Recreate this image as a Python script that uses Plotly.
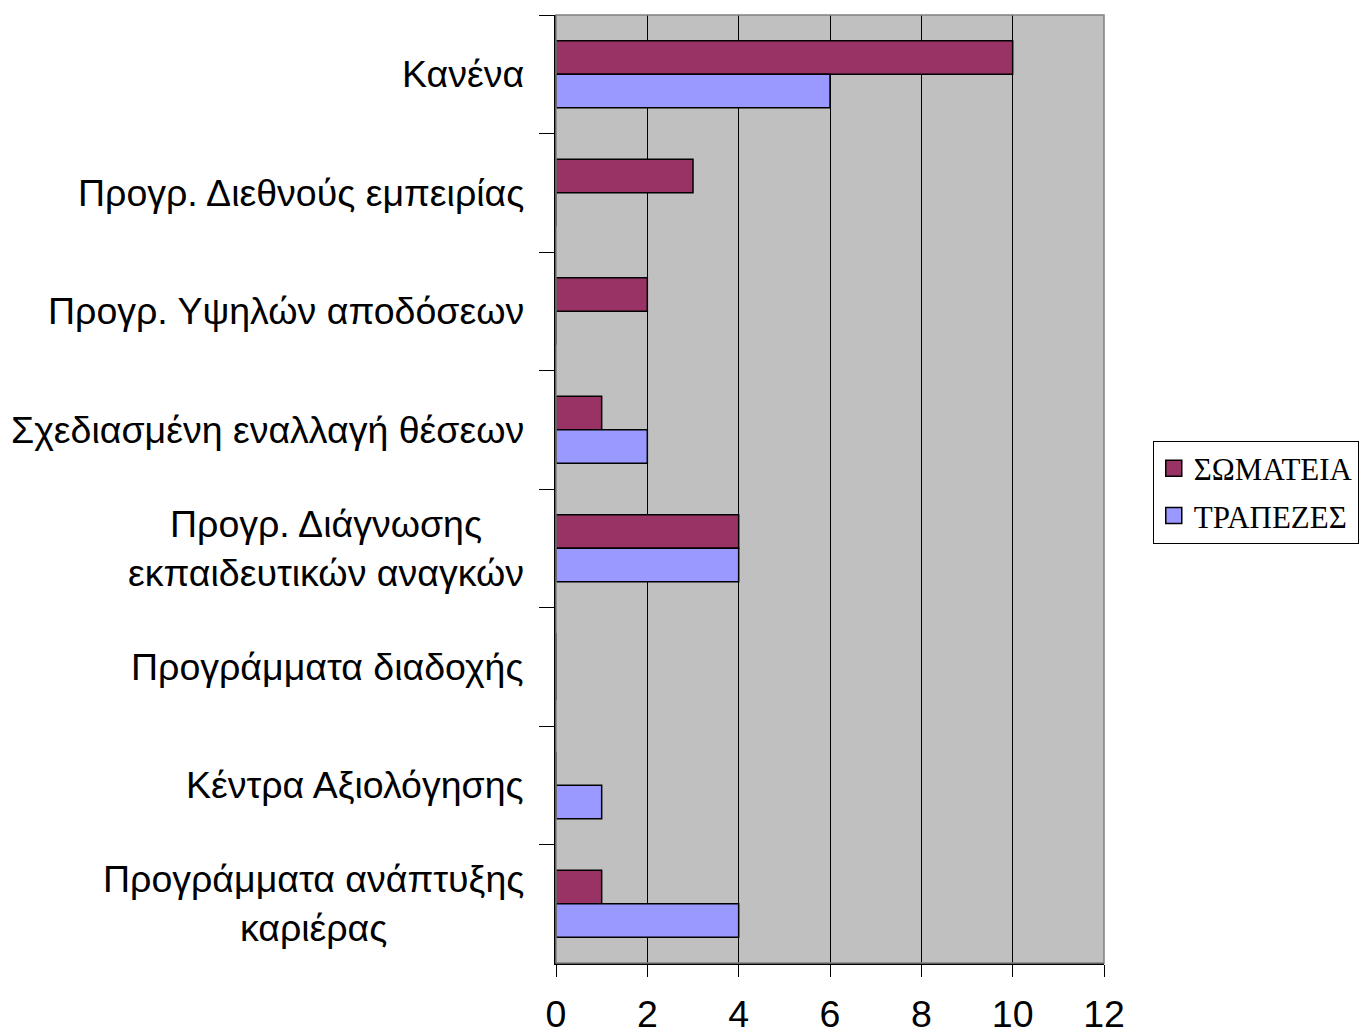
import plotly.graph_objects as go

# categories, top to bottom
categories = [
    "Κανένα",
    "Προγρ. Διεθνούς εμπειρίας",
    "Προγρ. Υψηλών αποδόσεων",
    "Σχεδιασμένη εναλλαγή θέσεων",
    "Προγρ. Διάγνωσης<br>εκπαιδευτικών αναγκών",
    "Προγράμματα διαδοχής",
    "Κέντρα Αξιολόγησης",
    "Προγράμματα ανάπτυξης<br>καριέρας",
]
somateia = [10, 3, 2, 1, 4, 0, 0, 1]
trapezes = [6, 0, 0, 2, 4, 0, 1, 4]
x_ticks = [0, 2, 4, 6, 8, 10, 12]

series = [("ΣΩΜΑΤΕΙΑ", somateia, "#993366"), ("ΤΡΑΠΕΖΕΣ", trapezes, "#9999FF")]

fig = go.Figure()
for name, vals, color in series:
    fig.add_trace(go.Bar(
        y=categories, x=vals, orientation="h", name=name, showlegend=False,
        marker=dict(color=color, line=dict(color="black", width=1.5)),
    ))
# legend entries with larger square swatches
for name, vals, color in series:
    fig.add_trace(go.Scatter(
        x=[None], y=[None], mode="markers", name=name, legendgroup=name,
        marker=dict(symbol="square", size=16, color=color,
                    line=dict(color="black", width=1.5)),
    ))

# category labels as annotations so two-line labels are centred like the original
for c in categories:
    fig.add_annotation(
        x=0, xref="paper", xanchor="right", xshift=-30,
        y=c, yref="y", yanchor="middle",
        text=c, showarrow=False, align="center",
        font=dict(family="Liberation Sans, Arial", size=37.5, color="black"),
    )

# gray frame on top/right
fig.add_shape(type="rect", xref="paper", yref="paper", x0=0, x1=1, y0=0, y1=1,
              line=dict(color="#808080", width=1.5), layer="above")

fig.update_layout(
    width=1370, height=1033,
    margin=dict(l=548, r=274, t=7, b=78, autoexpand=False),
    barmode="group", bargap=0.435, bargroupgap=0,
    plot_bgcolor="#C0C0C0", paper_bgcolor="white",
    font=dict(family="Liberation Sans, Arial", size=37.5, color="black"),
    showlegend=True,
    legend=dict(
        x=1.089, y=0.551, xanchor="left", yanchor="top",
        font=dict(family="Liberation Serif, Times New Roman", size=31, color="black"),
        bordercolor="black", borderwidth=1, bgcolor="white",
        traceorder="grouped", tracegroupgap=4, itemwidth=30,
    ),
    xaxis=dict(
        range=[0, 12], tickvals=x_ticks, ticks="outside", ticklen=12,
        tickcolor="black", showgrid=True, gridcolor="black", gridwidth=1,
        showline=True, linecolor="black", linewidth=1.5, zeroline=False,
        tickfont=dict(size=37.5), ticklabelstandoff=5, automargin=False,
    ),
    yaxis=dict(
        autorange="reversed", showticklabels=False, ticks="outside",
        tickson="boundaries", ticklen=15, tickcolor="black", automargin=False,
        showline=True, linecolor="black", linewidth=1.5, showgrid=False,
    ),
)

fig.write_html("out.html")
